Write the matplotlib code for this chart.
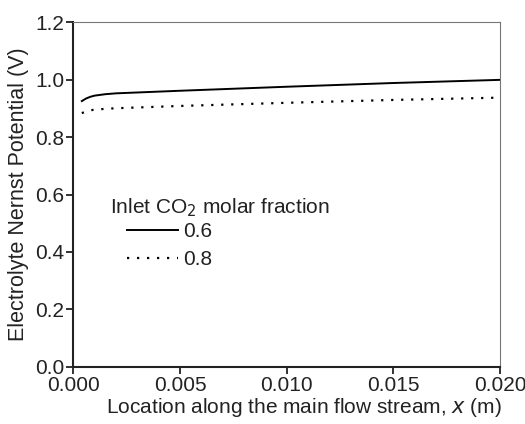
import matplotlib.pyplot as plt

plt.rcParams['font.family'] = ['Liberation Sans', 'DejaVu Sans']

x = [0.0004, 0.0006, 0.0008, 0.001, 0.0015, 0.002, 0.005, 0.01, 0.015, 0.02]
e_06 = [0.926, 0.935, 0.941, 0.945, 0.950, 0.953, 0.962, 0.976, 0.989, 1.0]
e_08 = [0.884, 0.890, 0.894, 0.896, 0.899, 0.901, 0.909, 0.920, 0.930, 0.938]

fig = plt.figure(figsize=(5.25, 4.24), dpi=100)
ax = fig.add_axes([0.1396, 0.135, 0.9524 - 0.1396, 0.947 - 0.135])

ax.plot(x, e_06, color='black', lw=1.4, label='0.6')
ax.plot(x, e_08, color='black', lw=1.6, linestyle=(0, (1, 3.5)), label='0.8')

ax.set_xlim(0, 0.02)
ax.set_ylim(0, 1.2)
ax.set_xticks([0.0, 0.005, 0.01, 0.015, 0.02])
ax.set_xticklabels(['0.000', '0.005', '0.010', '0.015', '0.020'])
ax.set_yticks([0.0, 0.2, 0.4, 0.6, 0.8, 1.0, 1.2])
ax.set_yticklabels(['0.0', '0.2', '0.4', '0.6', '0.8', '1.0', '1.2'])
ax.tick_params(direction='out', length=5, width=1.3, labelsize=15, colors='#222222', pad=1.5)

for s in ['left', 'bottom']:
    ax.spines[s].set_linewidth(1.5)
    ax.spines[s].set_color('#222222')
for s in ['top', 'right']:
    ax.spines[s].set_linewidth(0.8)
    ax.spines[s].set_color('#777777')

ax.set_xlabel('Location along the main flow stream, $\\mathit{x}$ (m)', fontsize=15, color='#222222', labelpad=1)
ax.xaxis.label.set_x(0.54)
ax.set_ylabel('Electrolyte Nernst Potential (V)', fontsize=15.5, color='#222222', labelpad=4)

ax.text(0.086, 0.462, 'Inlet CO$_2$ molar fraction', transform=ax.transAxes,
        fontsize=15, color='#222222', va='center', ha='left')
leg = ax.legend(loc='upper left', bbox_to_anchor=(0.126, 0.421),
                frameon=False, fontsize=15, handlelength=2.45,
                handletextpad=0.25, labelspacing=0.45, borderaxespad=0, borderpad=0)
for t in leg.get_texts():
    t.set_color('#222222')

fig.savefig('out.png', dpi=100)
